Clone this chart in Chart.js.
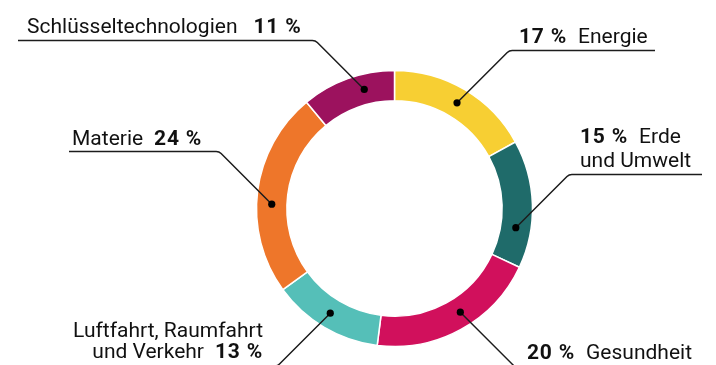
<!DOCTYPE html>
<html lang="de">
<head>
<meta charset="utf-8">
<script src="https://cdn.jsdelivr.net/npm/chart.js@4.4.1/dist/chart.umd.min.js"></script>
<style>
  html, body { margin: 0; padding: 0; background: #fff; }
</style>
</head>
<body>
<canvas id="ring" width="716" height="365"></canvas>
<script>
const bereiche = ["Energie", "Erde und Umwelt", "Gesundheit", "Luftfahrt, Raumfahrt und Verkehr", "Materie", "Schlüsseltechnologien"];
const anteile = [17, 15, 20, 13, 24, 11];
const farben = ["#f7cf33", "#1f6b6a", "#d1105c", "#55bfb8", "#ee762a", "#9c125e"];

// "#" steht für den fett gesetzten Prozentwert
const beschriftung = [
  { zeilen: [["#", "Energie"]], x: 519, y: 43, align: "left", linieY: 50.5, ende: 655, pos: 0.5 },
  { zeilen: [["#", "Erde"], ["und Umwelt"]], x: 580, y: 142.5, align: "left", zh: 24.3, linieY: 174.5, ende: 702, pos: 0.7 },
  { zeilen: [["#", "Gesundheit"]], x: 527, y: 359, align: "left", linieY: 367, ende: 700, pos: 0.45 },
  { zeilen: [["Luftfahrt, Raumfahrt"], ["und Verkehr", "#"]], x: 263, y: 336.5, align: "right", zh: 21.7, linieY: 366, ende: 66, pos: 0.52 },
  { zeilen: [["Materie", "#"]], x: 72, y: 145, align: "left", linieY: 151.5, ende: 69, pos: 0.44 },
  { zeilen: [["Schlüsseltechnologien", "#"]], x: 27, y: 32.5, align: "left", linieY: 40.5, ende: 18, pos: 0.64, luecke: 16 },
];

const SCHRIFT = "21px Roboto";
const SCHRIFT_FETT = "bold 21px Roboto";

const labelPlugin = {
  id: "bereichLabels",
  afterDraw(chart) {
    const { ctx } = chart;
    const meta = chart.getDatasetMeta(0);
    ctx.save();
    meta.data.forEach((arc, i) => {
      const b = beschriftung[i];
      const { x, y, startAngle, endAngle, innerRadius, outerRadius } =
        arc.getProps(["x", "y", "startAngle", "endAngle", "innerRadius", "outerRadius"], true);
      const a = startAngle + b.pos * (endAngle - startAngle);
      const r = (innerRadius + outerRadius) / 2;
      const px = x + r * Math.cos(a);
      const py = y + r * Math.sin(a);

      // Führungslinie im 45°-Winkel, dann waagerecht unter dem Text
      const sx = Math.sign(px - x);
      const knickX = px + sx * Math.abs(b.linieY - py);
      const ex = b.ende;
      ctx.strokeStyle = "#1c1c1c";
      ctx.lineWidth = 1.5;
      ctx.beginPath();
      ctx.moveTo(px, py);
      ctx.arcTo(knickX, b.linieY, ex, b.linieY, 7);
      ctx.lineTo(ex, b.linieY);
      ctx.stroke();

      ctx.fillStyle = "#000";
      ctx.beginPath();
      ctx.arc(px, py, 3.6, 0, Math.PI * 2);
      ctx.fill();

      // Text
      ctx.fillStyle = "#111";
      ctx.textBaseline = "alphabetic";
      ctx.textAlign = "left";
      const luecke = b.luecke || 11;
      b.zeilen.forEach((zeile, z) => {
        const teile = zeile.map((t) => t === "#"
          ? { text: anteile[i] + " %", font: SCHRIFT_FETT, sp: "0.8px" }
          : { text: t, font: SCHRIFT, sp: "0px" });
        let breite = 0;
        teile.forEach((t, k) => {
          ctx.font = t.font;
          ctx.letterSpacing = t.sp;
          t.w = ctx.measureText(t.text).width;
          breite += t.w + (k ? luecke : 0);
        });
        let tx = b.align === "right" ? b.x - breite : b.x;
        const ty = b.y + z * (b.zh || 24);
        teile.forEach((t) => {
          ctx.font = t.font;
          ctx.letterSpacing = t.sp;
          ctx.fillText(t.text, tx, ty);
          tx += t.w + luecke;
        });
      });
    });
    ctx.restore();
  },
};

new Chart(document.getElementById("ring"), {
  type: "doughnut",
  data: {
    labels: bereiche,
    datasets: [{
      data: anteile,
      backgroundColor: farben,
      borderColor: "#fff",
      borderWidth: 1.5,
      hoverOffset: 0,
    }],
  },
  options: {
    responsive: false,
    animation: false,
    cutout: "78%",
    radius: 138,
    layout: { padding: { left: 256, right: 183, top: 70, bottom: 18 } },
    plugins: {
      legend: { display: false },
      tooltip: { enabled: false },
    },
  },
  plugins: [labelPlugin],
});
</script>
</body>
</html>
